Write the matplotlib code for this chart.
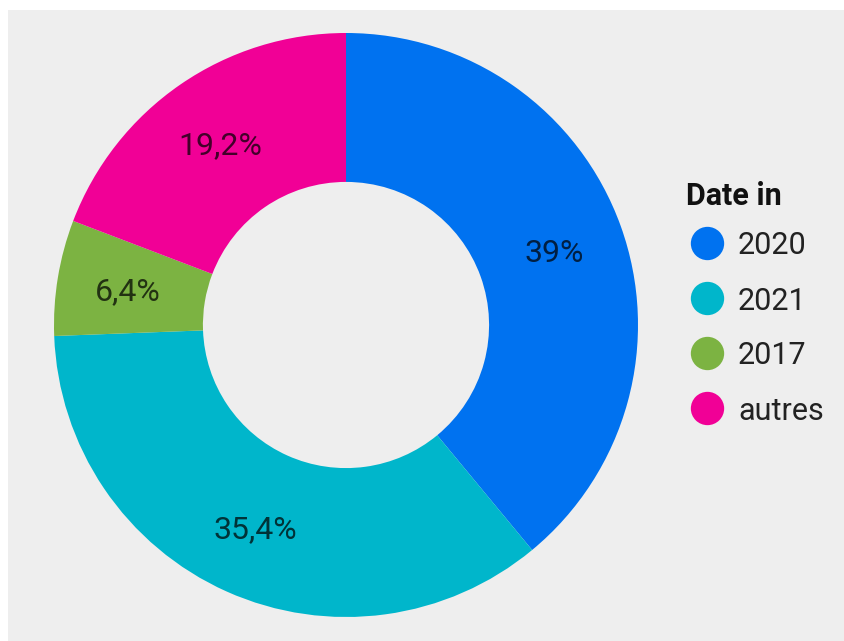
import matplotlib
matplotlib.use("Agg")
import matplotlib.pyplot as plt
from matplotlib.patches import Rectangle
from matplotlib.lines import Line2D
import numpy as np

# data (clockwise from 12 o'clock)
categories = ["2020", "2021", "2017", "autres"]
shares = [39.0, 35.4, 6.4, 19.2]
colors = ["#0072f0", "#00b6cb", "#7cb342", "#f10096"]
legend_title = "Date in"

plt.rcParams['font.family'] = ['Roboto', 'DejaVu Sans']

W, H = 845, 641
fig = plt.figure(figsize=(W / 100, H / 100), dpi=100)
fig.patch.set_facecolor("white")

# grey panel (white strip left and top)
fig.add_artist(Rectangle((8 / W, 0), 1, 1 - 10 / H, transform=fig.transFigure,
                         facecolor="#eeeeee", edgecolor="none", zorder=0))

def px(x, y):
    # pixel coords (origin top-left) -> figure fraction
    return x / W, 1 - y / H

cx, cy, r = 346, 325, 292
ax = fig.add_axes([(cx - r) / W, (H - cy - r) / H, 2 * r / W, 2 * r / H])
ax.set_facecolor("none")

def fmt(v):
    s = f"{v:g}".replace(".", ",")
    return s + "%"

wedges, _ = ax.pie(shares, colors=colors, startangle=90, counterclock=False,
                   radius=1, wedgeprops=dict(width=0.51, linewidth=0))

# value labels in the middle of each ring segment
cum = np.cumsum([0] + shares)
for i, v in enumerate(shares):
    mid = (cum[i] + cum[i + 1]) / 2 / 100 * 2 * np.pi
    d = 0.757
    ax.text(d * np.sin(mid), d * np.cos(mid), fmt(v), ha="center",
            va="center_baseline", fontsize=23, color="black", alpha=0.72)

ax.set_xlim(-1, 1)
ax.set_ylim(-1, 1)
ax.set_aspect("equal")
ax.axis("off")

# legend, drawn by hand to match the layout
fig.text(*px(686, 193), legend_title, fontsize=22, fontweight="bold",
         color="#111111", ha="left", va="center_baseline")
for i, (lab, c) in enumerate(zip(categories, colors)):
    y = 243 + i * 55
    fig.add_artist(Line2D([px(707, y)[0]], [px(707, y)[1]], marker="o",
                          markersize=24, color=c, markeredgewidth=0,
                          linestyle="none", transform=fig.transFigure))
    fig.text(*px(738, y), lab, fontsize=22, color="#222222",
             ha="left", va="center_baseline")

fig.savefig("out.png", dpi=100, facecolor=fig.get_facecolor())
